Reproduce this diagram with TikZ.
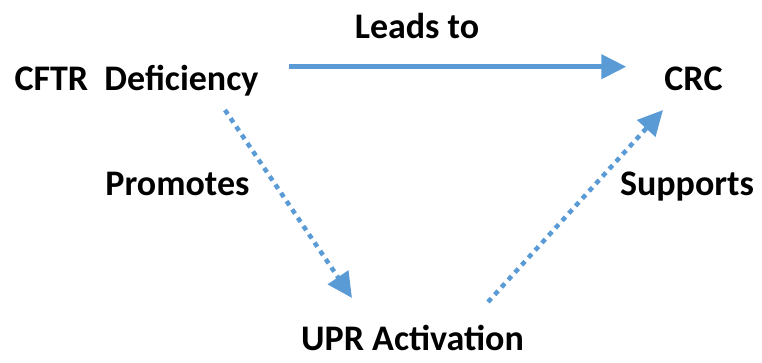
\documentclass[tikz,border=0pt]{standalone}
\usepackage{fontspec}
\setmainfont{Carlito}
\usetikzlibrary{arrows.meta}
\definecolor{linkblue}{HTML}{5B9BD5}
\tikzset{
  label text/.style={inner sep=0pt, anchor=base, font=\fontsize{36}{43}\selectfont\bfseries},
  link/.style={draw=linkblue, line width=4.5pt,
    -{Triangle[length=25pt,width=24pt,fill=linkblue]}},
  dotlink/.style={link, dash pattern=on 5pt off 5pt},
}
\begin{document}
\begin{tikzpicture}[x=1pt,y=-1pt]
  \useasboundingbox (0,0) rectangle (762,362);
  % factors and outcomes
  \node[label text] (cftr) at (136.5,90) {CFTR\ \ Deficiency};
  \node[label text] (crc)  at (693.5,90) {CRC};
  \node[label text] (upr)  at (412.5,350) {UPR Activation};
  % relation labels
  \node[label text] (leads)    at (417,38)  {Leads to};
  \node[label text] (promotes) at (177.5,195) {Promotes};
  \node[label text] (supports) at (687,195) {Supports};
  % relations
  \draw[link] ([shift={(30,-23.3)}]cftr.base east) -- ([shift={(-38,-23.3)}]crc.base west);
  \draw[dotlink] ([shift={(88.5,20)}]cftr.base) -- ([shift={(-60.5,-52)}]upr.base);
  \draw[dotlink] ([shift={(75.5,-48)}]upr.base) -- ([shift={(-30.5,20)}]crc.base);
\end{tikzpicture}
\end{document}
